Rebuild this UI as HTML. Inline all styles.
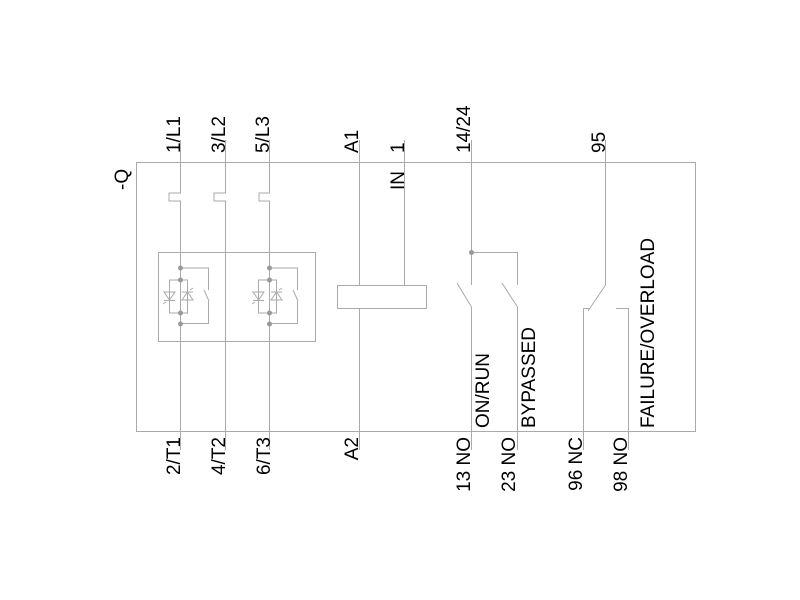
<!DOCTYPE html>
<html><head><style>html,body{margin:0;padding:0;background:#fff}svg{display:block}</style></head>
<body>
<svg width="800" height="600" xmlns="http://www.w3.org/2000/svg" font-family="Liberation Sans, Arial, sans-serif" font-size="19">
<g stroke="#aaa" stroke-width="1" fill="none">
<rect x="136.5" y="162.5" width="559" height="269"/>
<path d="M180.5 140 V193 H169 V201 H180.5 V450"/>
<path d="M225.5 140 V193 H214 V201 H225.5 V450"/>
<path d="M269.5 140 V193 H259 V201 H269.5 V450"/>
<rect x="158.5" y="252.5" width="157" height="89"/>
<path d="M359.5 140 V285 M359.5 308 V450 M404.5 140 V285"/>
<rect x="337.5" y="285.5" width="89" height="23"/>
<path d="M471.5 140 V285 M471.5 252.5 H517.5 V285 M471.5 307 L457 283 M471.5 307 V450 M517.5 307 L502 283 M517.5 307 V450"/>
<path d="M605.5 140 V285 L588 311 M583.5 308.5 H589 M583.5 308.5 V450 M616 308.5 H628.5 V450"/>
</g>
<g stroke="#aaa" stroke-width="1" fill="none" id="thy">
<path d="M169.5 280 H187.5 V313 H169.5 Z M180.5 268 H208.5 V290 M204 290 L209 301 M208.5 301 V323.5 H180.5"/>
<path d="M164 292 H175 L169.5 300 Z M164 300.5 H175 M182 300 H193 L187.5 292 Z M182 292 H193 M166 302 L163 304 M190 290 L193 288"/>
</g>
<use href="#thy" x="89"/>
<g fill="#999">
<circle cx="180.5" cy="268" r="2.5"/><circle cx="180.5" cy="280" r="2.5"/><circle cx="180.5" cy="313" r="2.5"/><circle cx="180.5" cy="324" r="2.5"/>
<circle cx="269.5" cy="268" r="2.5"/><circle cx="269.5" cy="280" r="2.5"/><circle cx="269.5" cy="313" r="2.5"/><circle cx="269.5" cy="324" r="2.5"/>
<circle cx="471.5" cy="252.5" r="2.5"/>
</g>
<g fill="#000">
<text transform="translate(180,153) rotate(-90)">1/L1</text>
<text transform="translate(225,153) rotate(-90)">3/L2</text>
<text transform="translate(269,153) rotate(-90)">5/L3</text>
<text transform="translate(358,153) rotate(-90)">A1</text>
<text transform="translate(404,190) rotate(-90)">IN</text>
<text transform="translate(404,153) rotate(-90)">1</text>
<text transform="translate(470,153) rotate(-90)">14/24</text>
<text transform="translate(605,153) rotate(-90)">95</text>
<text transform="translate(128,190) rotate(-90)">-Q</text>
<text transform="translate(489,428) rotate(-90)">ON/RUN</text>
<text transform="translate(535,428) rotate(-90)">BYPASSED</text>
<text transform="translate(654,428) rotate(-90)">FAILURE/OVERLOAD</text>
<g text-anchor="end">
<text transform="translate(180,437) rotate(-90)">2/T1</text>
<text transform="translate(225,437) rotate(-90)">4/T2</text>
<text transform="translate(270,437) rotate(-90)">6/T3</text>
<text transform="translate(358,437) rotate(-90)">A2</text>
<text transform="translate(470,437) rotate(-90)">13 NO</text>
<text transform="translate(515,437) rotate(-90)">23 NO</text>
<text transform="translate(582,437) rotate(-90)">96 NC</text>
<text transform="translate(627,437) rotate(-90)">98 NO</text>
</g>
</g>
</svg>
</body></html>
